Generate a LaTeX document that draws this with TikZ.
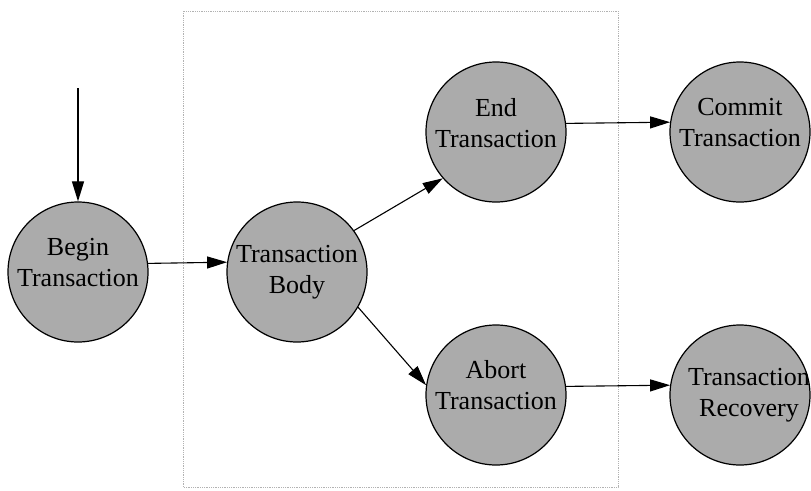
\documentclass[tikz,border=0pt]{standalone}
\usepackage{fontspec}
\setmainfont{Liberation Serif}
\usepackage{tikz}
\usetikzlibrary{arrows.meta}
\tikzset{
every picture/.style={line width=1.1pt, >={Triangle[length=20pt,width=12pt]}},
%%%%%%%%%%  Node styles
state/.style={circle,draw,fill=black!33,line width=1.2pt,
              inner sep=0pt, minimum size=140pt},
caption/.style={align=center,inner sep=0pt,
                font=\fontsize{26}{31}\selectfont},
%%%% different line styles:
region/.style={densely dotted, draw=black!30, line width=0.8pt}
}

\begin{document}
\begin{tikzpicture}[x=1pt,y=-1pt]
\useasboundingbox (0,0) rectangle (811,490);
\draw[region] (183,11) rectangle (618,487);
\node[state] (begin) at (78,272) {};
\node[state] (body) at (297,272) {};
\node[state] (end) at (496,132) {};
\node[state] (commit) at (740,132) {};
\node[state] (abort) at (496,395) {};
\node[state] (recovery) at (740,395) {};
\node[caption] (begin-txt) at ([yshift=9pt]begin) {Begin\\Transaction};
\node[caption] (body-txt) at (body) {Transaction\\Body};
\node[caption] (end-txt) at ([yshift=9pt]end) {End\\Transaction};
\node[caption] (commit-txt) at ([yshift=9pt]commit) {Commit\\Transaction};
\node[caption] (abort-txt) at ([yshift=10pt]abort) {Abort\\Transaction};
\node[caption] (recovery-txt) at ([xshift=9pt]recovery) {Transaction\\Recovery};
\coordinate (start) at (78,88);
\draw[->] (start) -- (begin.north);
\draw[->] (begin.7.4) -- (body.172.6);
\draw[->] (body.36) -- (end.221);
\draw[->] (body.-30) -- (abort.172);
\draw[->] (end.7.4) -- (commit.172.6);
\draw[->] (abort.7.4) -- (recovery.172.6);
\end{tikzpicture}
\end{document}
